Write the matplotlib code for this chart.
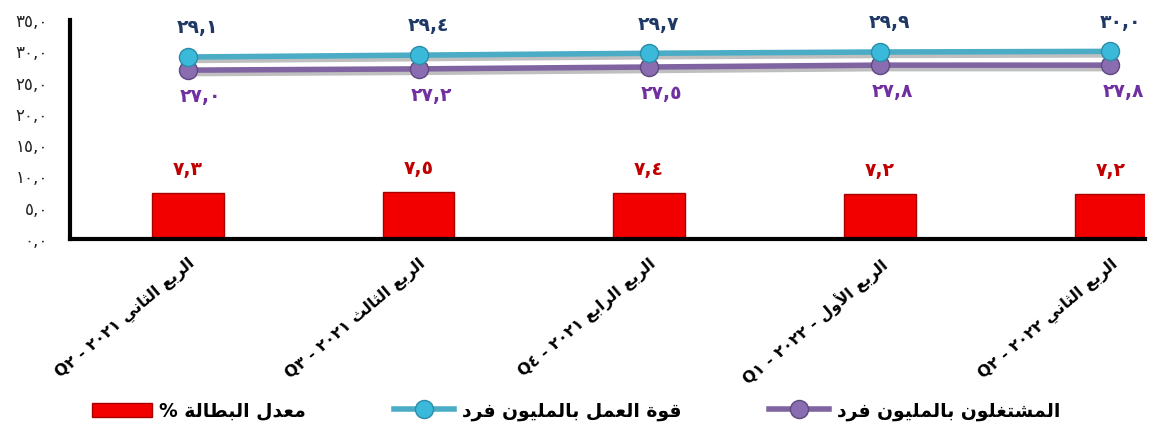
import re
import matplotlib
matplotlib.use("Agg")
import matplotlib.pyplot as plt
import matplotlib.patheffects as pe
from matplotlib.lines import Line2D
from matplotlib.patches import Patch

# data
quarters = [
    "الربع الثاني ٢٠٢١ - Q٢",
    "الربع الثالث ٢٠٢١ - Q٣",
    "الربع الرابع ٢٠٢١ - Q٤",
    "الربع الأول - ٢٠٢٢ - Q١",
    "الربع الثاني ٢٠٢٢ - Q٢",
]
labor_force = [29.1, 29.4, 29.7, 29.9, 30.0]
employed = [27.0, 27.2, 27.5, 27.8, 27.8]
unemployment = [7.3, 7.5, 7.4, 7.2, 7.2]
y_ticks = [0, 5, 10, 15, 20, 25, 30, 35]

name_unemp = "معدل البطالة %"
name_labor = "قوة العمل بالمليون فرد"
name_emp = "المشتغلون بالمليون فرد"

# --- minimal arabic shaping (matplotlib has no bidi / joining) ---
FORMS = {
    'ا': (0xFE8D, 0xFE8E, None, None),
    'أ': (0xFE83, 0xFE84, None, None),
    'ب': (0xFE8F, 0xFE90, 0xFE91, 0xFE92),
    'ة': (0xFE93, 0xFE94, None, None),
    'ت': (0xFE95, 0xFE96, 0xFE97, 0xFE98),
    'ث': (0xFE99, 0xFE9A, 0xFE9B, 0xFE9C),
    'د': (0xFEA9, 0xFEAA, None, None),
    'ر': (0xFEAD, 0xFEAE, None, None),
    'ش': (0xFEB5, 0xFEB6, 0xFEB7, 0xFEB8),
    'ط': (0xFEC1, 0xFEC2, 0xFEC3, 0xFEC4),
    'ع': (0xFEC9, 0xFECA, 0xFECB, 0xFECC),
    'غ': (0xFECD, 0xFECE, 0xFECF, 0xFED0),
    'ف': (0xFED1, 0xFED2, 0xFED3, 0xFED4),
    'ق': (0xFED5, 0xFED6, 0xFED7, 0xFED8),
    'ل': (0xFEDD, 0xFEDE, 0xFEDF, 0xFEE0),
    'م': (0xFEE1, 0xFEE2, 0xFEE3, 0xFEE4),
    'ن': (0xFEE5, 0xFEE6, 0xFEE7, 0xFEE8),
    'و': (0xFEED, 0xFEEE, None, None),
    'ي': (0xFEF1, 0xFEF2, 0xFEF3, 0xFEF4),
    'لا': (0xFEFB, 0xFEFC, None, None),
    'لأ': (0xFEF7, 0xFEF8, None, None),
}


def shape(text):
    toks = []
    i = 0
    while i < len(text):
        if text[i] == 'ل' and i + 1 < len(text) and text[i + 1] in 'اأ':
            toks.append(text[i:i + 2])
            i += 2
        else:
            toks.append(text[i])
            i += 1
    out = []
    for j, t in enumerate(toks):
        if t not in FORMS:
            out.append(t)
            continue
        prev = toks[j - 1] if j > 0 else None
        nxt = toks[j + 1] if j + 1 < len(toks) else None
        jp = prev in FORMS and FORMS[prev][2] is not None
        jn = FORMS[t][2] is not None and nxt in FORMS
        iso, fin, ini, med = FORMS[t]
        if jp and jn:
            out.append(chr(med))
        elif jp:
            out.append(chr(fin))
        elif jn:
            out.append(chr(ini))
        else:
            out.append(chr(iso))
    return ''.join(out)


def ar(text):
    s = shape(text)[::-1]
    return re.sub(r'[A-Za-z0-9\u0660-\u0669,]+', lambda m: m.group(0)[::-1], s)


DIG = str.maketrans("0123456789.", "٠١٢٣٤٥٦٧٨٩,")


def ar_num(v):
    return f"{v:.1f}".translate(DIG)


plt.rcParams['font.family'] = ['DejaVu Sans']

fig = plt.figure(figsize=(11.59, 4.28), dpi=100)
ax = fig.add_axes([0.0604, 0.4416, 0.9276, 0.5114])

x = list(range(len(quarters)))
teal = '#4BACC6'
purple = '#8064A2'

ax.bar(x, unemployment, width=0.31, color='#F20000', edgecolor='#A80000', linewidth=1, zorder=2)

# lines with a soft shadow, markers drawn on top without it
shadow = [pe.SimpleLineShadow(offset=(1.5, -2.5), alpha=0.25), pe.Normal()]
ax.plot(x, employed, color=purple, lw=4, zorder=3, path_effects=shadow)
ax.plot(x, labor_force, color=teal, lw=4, zorder=3, path_effects=shadow)
ax.plot(x, employed, 'o', ms=13, mfc='#8A6DB0', mec='#5E4880', mew=1, zorder=4)
ax.plot(x, labor_force, 'o', ms=13, mfc='#3BB9DA', mec='#2A8DA8', mew=1, zorder=5)

for xi, v in zip(x, labor_force):
    ax.annotate(ar_num(v), (xi, v), xytext=(7, 21), textcoords='offset points',
                ha='center', va='center', fontsize=13.5, fontweight='bold', color='#1F3864')
for xi, v in zip(x, employed):
    ax.annotate(ar_num(v), (xi, v), xytext=(9, -19), textcoords='offset points',
                ha='center', va='center', fontsize=13.5, fontweight='bold', color='#7030A0')
for xi, v in zip(x, unemployment):
    ax.annotate(ar_num(v), (xi, v), xytext=(0, 17), textcoords='offset points',
                ha='center', va='center', fontsize=13.5, fontweight='bold', color='#C00000')

ax.set_xlim(-0.511, 4.15)
ax.set_ylim(0, 35)
ax.set_yticks(y_ticks)
ax.set_yticklabels([ar_num(t) for t in y_ticks], fontsize=12, color='#222222')
ax.set_xticks(x)
ax.set_xticklabels([ar(q) for q in quarters], rotation=40, ha='right', va='top',
                   rotation_mode='anchor', fontsize=11.5, fontweight='bold')
ax.tick_params(axis='both', length=0)
ax.tick_params(axis='y', pad=16)
ax.tick_params(axis='x', pad=12)

for s in ['top', 'right']:
    ax.spines[s].set_visible(False)
for s in ['left', 'bottom']:
    ax.spines[s].set_linewidth(3)
    ax.spines[s].set_color('black')

handles = [
    Patch(facecolor='#F20000', edgecolor='#A80000'),
    Line2D([], [], color=teal, lw=4, marker='o', ms=13, mfc='#3BB9DA', mec='#2A8DA8'),
    Line2D([], [], color=purple, lw=4, marker='o', ms=13, mfc='#8A6DB0', mec='#5E4880'),
]
fig.legend(handles, [ar(name_unemp), ar(name_labor), ar(name_emp)],
           loc='center', bbox_to_anchor=(0.497, 0.04), ncol=3, frameon=False,
           prop={'size': 13.5, 'weight': 'bold'}, handlelength=3.2, handleheight=0.8,
           columnspacing=4.7, handletextpad=0.4)

fig.savefig('out.png', dpi=100)
